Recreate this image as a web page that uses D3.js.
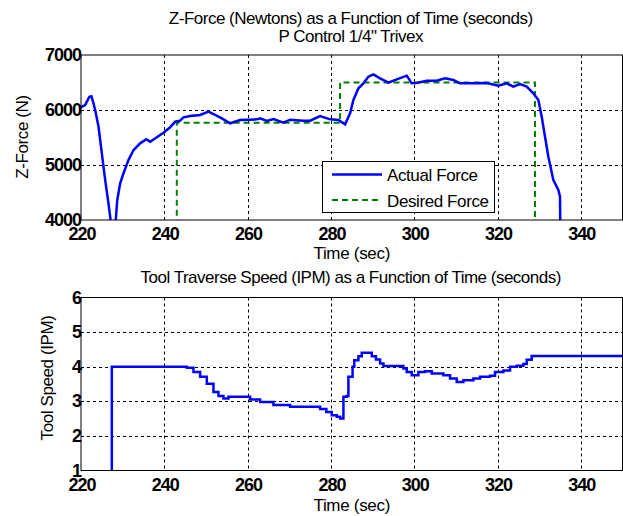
<!DOCTYPE html>
<html>
<head>
<meta charset="utf-8">
<script src="https://cdn.jsdelivr.net/npm/d3@7"></script>
<style>
  body { margin: 0; background: #fff; }
  text { font-family: "Liberation Sans", Arial, sans-serif; fill: #000; }
</style>
</head>
<body>
<div id="chart"></div>
<script>
// ---- data ----
const timeTicks = [220, 240, 260, 280, 300, 320, 340];
const forceTicks = [4000, 5000, 6000, 7000];
const speedTicks = [1, 2, 3, 4, 5, 6];

// actual Z-force [time, N]
const actualForce = [
  [220, 6050], [221, 6090], [222, 6240], [222.5, 6250], [223, 6120], [223.4, 6000],
  [224.2, 5700], [225, 5210], [225.8, 4730], [226.6, 4300], [227.1, 4000],
  [227.8, 3800], [228.3, 3950], [228.7, 4360], [229.4, 4667], [230.2, 4850],
  [231.4, 5090], [232.6, 5270], [234.2, 5394], [235.7, 5467], [236.6, 5424],
  [238.2, 5503], [239.8, 5588], [241.4, 5685], [242.6, 5788], [243.8, 5806],
  [244.6, 5867], [246.2, 5890], [248.6, 5909], [250.6, 5970], [251.8, 5927],
  [253.8, 5848], [255.8, 5758], [258.2, 5818], [262.2, 5830], [263, 5848],
  [264.6, 5800], [266.2, 5836], [268.6, 5770], [270.2, 5824], [273.4, 5806],
  [275, 5806], [277.4, 5890], [279.8, 5830], [281.8, 5818], [283.4, 5740],
  [284.6, 5939], [285.4, 6182], [286.6, 6394], [287.8, 6485], [289, 6606],
  [290.2, 6648], [291.8, 6576], [293.8, 6497], [295.8, 6558], [298.2, 6624],
  [299.4, 6485], [300.6, 6490], [303, 6533], [305.4, 6533], [307.4, 6576],
  [309.4, 6545], [311, 6485], [314.2, 6485], [317.4, 6490], [320.2, 6442],
  [322.2, 6485], [323.8, 6424], [325.4, 6470], [327, 6424], [328.6, 6303],
  [329.8, 6182], [330.6, 5879], [331.4, 5515], [332.2, 5151], [333.4, 4727],
  [334.6, 4545], [335, 4424], [335.1, 3500]
];

// desired force step profile [time, N]
const desiredForce = [
  [220, 0], [243, 0], [243, 5770], [282.2, 5770], [282.2, 6500],
  [329, 6500], [329, 0], [350, 0]
];

// tool traverse speed [time, IPM] (step after)
const toolSpeed = [
  [227.4, 0], [227.4, 4.0], [245.4, 3.97], [247, 3.85], [248.6, 3.71],
  [250.2, 3.51], [251.8, 3.27], [253, 3.15], [254.2, 3.08], [255.4, 3.13],
  [260.6, 3.05], [263, 2.98], [266.2, 2.89], [270.2, 2.84], [277.4, 2.78],
  [278.9, 2.69], [280.2, 2.6], [281.4, 2.55], [282.2, 2.5], [283, 3.13],
  [283.8, 3.15], [284.2, 3.71], [285.2, 4.0], [285.6, 4.19], [286.6, 4.3],
  [287.4, 4.4], [289.8, 4.3], [290.8, 4.21], [291.8, 4.09], [292.6, 4.02],
  [297.4, 3.95], [298.2, 3.85], [299.4, 3.75], [301, 3.85], [302.6, 3.87],
  [304.2, 3.8], [307, 3.75], [308.6, 3.66], [310.2, 3.56], [311.8, 3.61],
  [314.2, 3.66], [315.8, 3.71], [318.2, 3.74], [319.4, 3.85], [321.4, 3.89],
  [323, 4.0], [324.6, 4.03], [326.2, 4.08], [327, 4.2], [328.2, 4.31], [350, 4.31]
];

const W = 623, H = 516;
const plotLeft = 81, plotRight = 622.5;

const svg = d3.select("#chart").append("svg")
  .attr("width", W).attr("height", H);

function panel(cfg) {
  const x = d3.scaleLinear().domain([220, 350]).range([plotLeft, plotRight]);
  const y = d3.scaleLinear().domain(cfg.yDomain).range([cfg.bottom, cfg.top]);

  const clipId = cfg.id + "-clip";
  svg.append("clipPath").attr("id", clipId)
    .append("rect")
    .attr("x", plotLeft).attr("y", cfg.top)
    .attr("width", plotRight - plotLeft).attr("height", cfg.bottom - cfg.top);

  // grid
  const grid = svg.append("g")
    .attr("stroke", "#000").attr("stroke-width", 1)
    .attr("stroke-dasharray", "3,3");
  grid.selectAll(".vx")
    .data(timeTicks.filter(d => d > 220))
    .join("line")
    .attr("x1", d => Math.round(x(d)) + 0.5).attr("x2", d => Math.round(x(d)) + 0.5)
    .attr("y1", cfg.top).attr("y2", cfg.bottom);
  grid.selectAll(".hy")
    .data(cfg.yTicks.slice(1, -1))
    .join("line")
    .attr("y1", d => Math.round(y(d)) + 0.5).attr("y2", d => Math.round(y(d)) + 0.5)
    .attr("x1", plotLeft).attr("x2", plotRight);

  // lines
  const plot = svg.append("g").attr("clip-path", `url(#${clipId})`);
  cfg.series.forEach(s => {
    plot.append("path")
      .datum(s.data)
      .attr("fill", "none")
      .attr("stroke", s.color)
      .attr("stroke-width", s.width)
      .attr("stroke-dasharray", s.dash || null)
      .attr("d", d3.line().x(d => x(d[0])).y(d => y(d[1])).curve(s.curve || d3.curveLinear));
  });

  // box
  svg.append("rect")
    .attr("x", plotLeft).attr("y", cfg.top)
    .attr("width", plotRight - plotLeft).attr("height", cfg.bottom - cfg.top)
    .attr("fill", "none").attr("stroke", "#000").attr("stroke-width", 1);

  // tick labels
  svg.append("g").selectAll("text")
    .data(timeTicks)
    .join("text")
    .attr("x", d => x(d) + 1).attr("y", cfg.bottom + 20)
    .attr("text-anchor", "middle")
    .attr("font-size", 18).attr("font-weight", "bold")
    .attr("letter-spacing", -1)
    .text(d => d);
  svg.append("g").selectAll("text")
    .data(cfg.yTicks)
    .join("text")
    .attr("x", plotLeft).attr("y", d => y(d) + 6)
    .attr("text-anchor", "end")
    .attr("font-size", 18).attr("font-weight", "bold")
    .attr("letter-spacing", -1)
    .text(d => d);

  // axis labels
  svg.append("text")
    .attr("x", (plotLeft + plotRight) / 2).attr("y", cfg.bottom + cfg.xLabelDy)
    .attr("text-anchor", "middle").attr("font-size", 17).attr("letter-spacing", -0.3)
    .text("Time (sec)");
  svg.append("text")
    .attr("transform", `translate(${cfg.yLabelX},${cfg.yLabelY}) rotate(-90)`)
    .attr("text-anchor", "middle").attr("font-size", 17).attr("letter-spacing", -0.4)
    .text(cfg.yLabel);

  // title
  cfg.title.forEach((t, i) => {
    svg.append("text")
      .attr("x", (plotLeft + plotRight) / 2 - 1).attr("y", cfg.titleY + i * 18)
      .attr("text-anchor", "middle").attr("font-size", 17).attr("letter-spacing", -0.5)
      .text(t);
  });

  return { x, y };
}

panel({
  id: "force",
  top: 55, bottom: 220,
  yDomain: [4000, 7000], yTicks: forceTicks,
  yLabel: "Z-Force (N)", yLabelX: 28, yLabelY: 137,
  xLabelDy: 39,
  title: ["Z-Force (Newtons) as a Function of Time (seconds)", "P Control 1/4\" Trivex"],
  titleY: 24,
  series: [
    { data: desiredForce, color: "#008000", width: 2, dash: "6,4" },
    { data: actualForce, color: "#0000ff", width: 2.5 }
  ]
});

panel({
  id: "speed",
  top: 297.5, bottom: 470.5,
  yDomain: [1, 6], yTicks: speedTicks,
  yLabel: "Tool Speed (IPM)", yLabelX: 53, yLabelY: 378,
  xLabelDy: 40,
  title: ["Tool Traverse Speed (IPM) as a Function of Time (seconds)"],
  titleY: 283,
  series: [
    { data: toolSpeed, color: "#0000ff", width: 2.5, curve: d3.curveStepAfter }
  ]
});

// legend
const lg = svg.append("g");
lg.append("rect")
  .attr("x", 322.5).attr("y", 161.5).attr("width", 172).attr("height", 51)
  .attr("fill", "#fff").attr("stroke", "#000").attr("stroke-width", 1);
const legendItems = [
  { label: "Actual Force", color: "#0000ff", width: 2.5, dash: null },
  { label: "Desired Force", color: "#008000", width: 2, dash: "6,4" }
];
legendItems.forEach((d, i) => {
  const yy = 174.5 + i * 25.5;
  lg.append("line")
    .attr("x1", 332).attr("x2", 382).attr("y1", yy).attr("y2", yy)
    .attr("stroke", d.color).attr("stroke-width", d.width)
    .attr("stroke-dasharray", d.dash);
  lg.append("text")
    .attr("x", 387).attr("y", yy + 6.5)
    .attr("font-size", 17).attr("letter-spacing", -0.4)
    .text(d.label);
});
</script>
</body>
</html>
